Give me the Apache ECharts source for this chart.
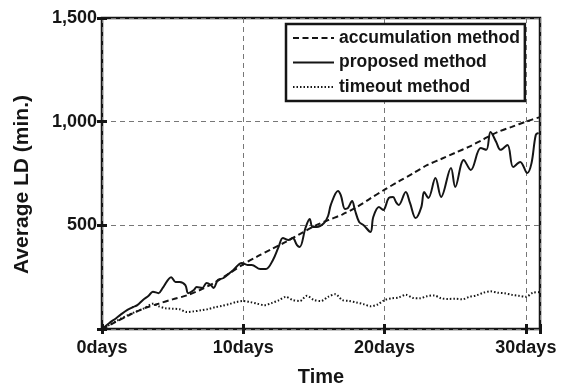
<!DOCTYPE html>
<html>
<head>
<meta charset="utf-8">
<script src="https://cdn.jsdelivr.net/npm/echarts@6/dist/echarts.min.js"></script>
<style>
html,body{margin:0;padding:0;background:#fff;}
#c{width:567px;height:390px;}
</style>
</head>
<body>
<div id="c"></div>
<script>
var seriesNames = ['accumulation method', 'proposed method', 'timeout method'];
var xTickValues = [0, 10, 20, 30];
var yTickValues = [500, 1000, 1500];

var accDays = [0,1,2,3,4,5,6,7,8,9,10,11,12,13,14,15,16,17,18,19,20,21,22,23,24,25,26,27,28,29,30,31];
var accValues = [0,35,70,100,122,143,162,190,225,268,312,350,385,420,458,495,525,552,587,630,672,712,750,790,820,850,880,915,950,975,1000,1022];

var propDays = [0,0.5,1.0,1.3,1.8,2.2,2.5,2.9,3.3,3.6,4.0,4.3,4.9,5.2,5.5,5.9,6.1,6.5,6.7,7.1,7.4,7.7,7.9,8.2,8.6,9.3,9.9,10.3,10.6,11.2,11.6,12.1,12.5,12.8,13.2,13.5,13.8,14.0,14.4,14.7,14.9,15.2,15.7,16.0,16.2,16.7,16.9,17.2,17.4,17.7,17.9,18.2,18.5,19.0,19.2,19.6,19.9,20.3,20.6,20.8,21.0,21.5,21.8,22.2,22.6,22.8,23.1,23.6,24.0,24.7,25.0,25.6,26.1,26.8,27.2,27.5,27.9,28.2,28.7,29.1,29.6,30.1,30.4,30.7,30.9];
var propValues = [0,28,52,68,92,106,115,140,160,180,173,198,250,227,227,212,173,188,203,198,222,212,198,236,246,285,318,309,309,289,289,333,396,439,429,439,405,396,487,531,492,492,510,545,600,666,646,579,583,617,574,516,502,468,540,588,574,632,637,613,598,661,608,535,588,661,632,728,637,777,685,815,767,873,864,950,902,864,888,781,806,752,800,936,945];

var toDays = [0,1,2,3,3.6,4,4.5,5,5.5,6,6.5,7,7.5,8,8.5,9,9.5,10,10.5,11,11.5,12,12.5,13,13.5,14,14.5,15,15.5,16,16.5,17,17.5,18,18.5,19,19.5,20,20.5,21,21.5,22,22.5,23,23.5,24,24.5,25,25.5,26,26.5,27,27.5,28,28.5,29,29.5,30,30.5,31];
var toValues = [0,38,72,100,122,110,100,98,95,82,85,90,96,105,112,120,130,135,130,122,115,125,138,155,140,135,160,140,135,155,168,140,135,128,120,110,118,140,148,152,165,150,148,158,162,148,145,146,143,155,162,175,182,175,172,165,160,155,175,178];

function pairs(xs, ys) { return xs.map(function (x, i) { return [x, ys[i]]; }); }

var FONT = '"Liberation Sans", Arial, sans-serif';
var INK = '#151515';

var chart = echarts.init(document.getElementById('c'), null, {renderer: 'canvas'});
var tickStyle = {show: true, inside: true, length: 5, lineStyle: {color: INK, width: 3}};
var gridSplit = {show: true, lineStyle: {color: '#777', type: [5, 4], width: 1}};

chart.setOption({
  animation: false,
  backgroundColor: '#fff',
  grid: {left: 102, right: 27, top: 18, bottom: 61, show: true, borderColor: INK, borderWidth: 2.5,
    backgroundColor: 'transparent', containLabel: false, outerBoundsMode: 'none'},
  legend: {
    orient: 'vertical', left: 286, top: 24,
    padding: [4, 5, 4, 6], itemGap: 4.5, itemWidth: 41, itemHeight: 20,
    backgroundColor: '#fff', borderColor: INK, borderWidth: 2.5, borderRadius: 0,
    itemStyle: {opacity: 0},
    textStyle: {fontFamily: FONT, fontWeight: 'bold', fontSize: 17.5, color: INK, lineHeight: 20},
    data: seriesNames
  },
  xAxis: [{
    type: 'value', min: 0, max: 31, interval: 10,
    name: 'Time', nameLocation: 'middle', nameGap: 38,
    nameTextStyle: {fontFamily: FONT, fontWeight: 'bold', fontSize: 20, color: INK},
    axisLine: {show: false}, axisTick: tickStyle,
    axisLabel: {margin: 10, fontFamily: FONT, fontWeight: 'bold', fontSize: 18, color: INK,
      formatter: function (v) { return xTickValues.indexOf(v) >= 0 ? v + 'days' : ''; }},
    splitLine: gridSplit
  }, {
    type: 'value', position: 'top', min: 0, max: 31, interval: 10,
    axisLine: {show: false}, axisTick: tickStyle, axisLabel: {show: false}, splitLine: {show: false}
  }],
  yAxis: [{
    type: 'value', min: 0, max: 1500, interval: 500,
    name: 'Average LD (min.)', nameLocation: 'middle', nameGap: 69,
    nameTextStyle: {fontFamily: FONT, fontWeight: 'bold', fontSize: 21, color: INK, padding: [0, 22, 0, 0]},
    axisLine: {show: false}, axisTick: tickStyle,
    axisLabel: {margin: 5, fontFamily: FONT, fontWeight: 'bold', fontSize: 18, color: INK,
      formatter: function (v) { return yTickValues.indexOf(v) >= 0 ? v.toLocaleString('en-US') : ''; }},
    splitLine: gridSplit
  }, {
    type: 'value', position: 'right', min: 0, max: 1500, interval: 500,
    axisLine: {show: false}, axisTick: tickStyle, axisLabel: {show: false}, splitLine: {show: false}
  }],
  series: [{
    name: seriesNames[0], type: 'line', data: pairs(accDays, accValues),
    symbol: 'none', smooth: 0.3, z: 3,
    lineStyle: {color: INK, width: 2, type: [6, 3.5]},
    itemStyle: {color: INK}
  }, {
    name: seriesNames[1], type: 'line', data: pairs(propDays, propValues),
    symbol: 'none', smooth: 0.35, z: 4,
    lineStyle: {color: INK, width: 2},
    itemStyle: {color: INK}
  }, {
    name: seriesNames[2], type: 'line', data: pairs(toDays, toValues),
    symbol: 'none', smooth: 0.3, z: 2,
    lineStyle: {color: INK, width: 2, type: [1.5, 2]},
    itemStyle: {color: INK}
  }]
});
</script>
</body>
</html>
